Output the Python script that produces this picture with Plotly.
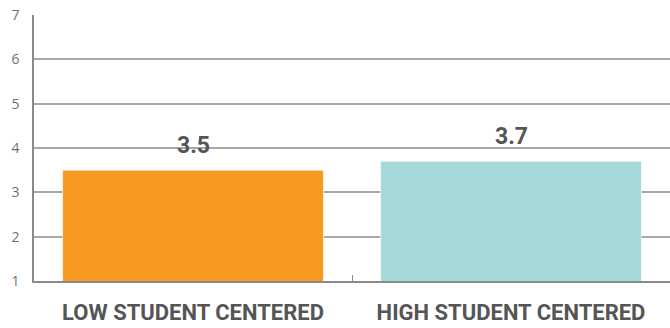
import plotly.graph_objects as go

categories = ["LOW STUDENT CENTERED", "HIGH STUDENT CENTERED"]
values = [3.5, 3.7]
bar_colors = ["#F7991F", "#A6D8D9"]
value_labels = ["3.5", "3.7"]
y_ticks = [1, 2, 3, 4, 5, 6, 7]

label_font = "Roboto, sans-serif"

fig = go.Figure()
fig.add_trace(go.Bar(
    x=categories,
    y=values,
    base=0,
    marker=dict(color=bar_colors, line=dict(color="rgba(255,255,255,0.6)", width=1)),
    width=0.82,
    hoverinfo="x+y",
))

# value labels sitting just above each bar
for cat, val, txt in zip(categories, values, value_labels):
    fig.add_annotation(
        x=cat, y=val, text=txt, showarrow=False,
        yanchor="bottom", yshift=9,
        font=dict(family=label_font, size=23, color="#555555", weight="bold"),
    )

fig.update_layout(
    width=670, height=328,
    margin=dict(l=34, r=0, t=15, b=47, autoexpand=False),
    paper_bgcolor="white", plot_bgcolor="white",
    showlegend=False,
)
fig.update_xaxes(
    showgrid=False, automargin=False, tickangle=0,
    showline=True, linecolor="#8a8a8a", linewidth=1.5,
    ticks="inside", ticklen=6, tickcolor="#8a8a8a", tickwidth=1, tickson="boundaries",
    tickfont=dict(family=label_font, size=22, color="#555555", weight="bold"),
    ticklabelstandoff=11,
)
fig.update_yaxes(
    range=[1, 7], automargin=False,
    tickvals=y_ticks,
    showgrid=True, gridcolor="#a8a8a8", gridwidth=1.5,
    showline=True, linecolor="#8a8a8a", linewidth=1.5,
    zeroline=False,
    ticks="",
    tickfont=dict(family="Open Sans, sans-serif", size=14, color="#707070"),
    ticklabelstandoff=10,
)

fig.write_html("out.html")
